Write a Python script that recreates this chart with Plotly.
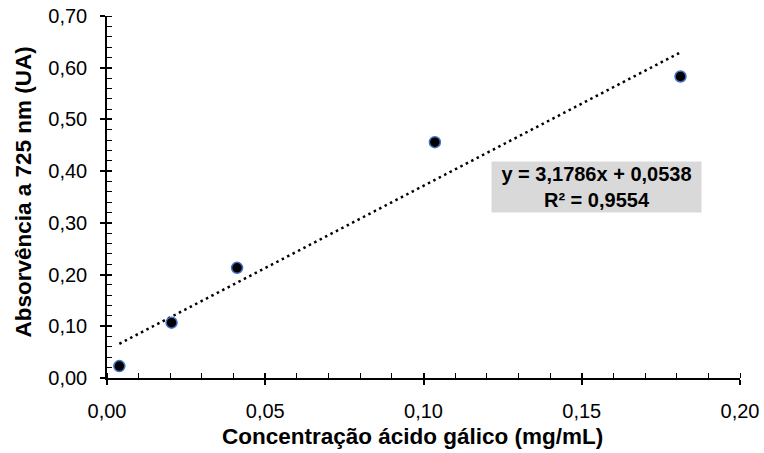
import plotly.graph_objects as go

# Data
concentracao = [0.0039, 0.0204, 0.0411, 0.1036, 0.1812]
absorvancia = [0.023, 0.107, 0.213, 0.456, 0.583]
slope = 3.1786
intercept = 0.0538
r2 = 0.9554
x_title = "Concentração ácido gálico (mg/mL)"
y_title = "Absorvência a 725 nm (UA)"

x_fit = [min(concentracao), max(concentracao)]
y_fit = [slope * v + intercept for v in x_fit]

fig = go.Figure()
fig.add_trace(go.Scatter(
    x=x_fit, y=y_fit, mode="lines",
    line=dict(color="black", width=2.5, dash="2.5px,3.6px"),
    showlegend=False, hoverinfo="skip"))
fig.add_trace(go.Scatter(
    x=concentracao, y=absorvancia, mode="markers",
    marker=dict(color="black", size=11, line=dict(color="#4472C4", width=1.5)),
    showlegend=False))

font_family = "Liberation Sans"
axis_common = dict(showline=True, linecolor="black", linewidth=1.5, showgrid=False,
                   zeroline=False, ticks="outside", ticklen=5, tickwidth=1.5,
                   tickcolor="black", tickformat=".2f",
                   automargin=False, ticklabelstandoff=9,
                   tickfont=dict(family=font_family, size=20, color="black"))

fig.update_layout(
    width=764, height=453,
    margin=dict(l=107, r=24, t=16, b=75),
    plot_bgcolor="white", paper_bgcolor="white",
    separators=", ",
    font=dict(family=font_family, color="black"),
    xaxis=dict(range=[0, 0.20], dtick=0.05,
               minor=dict(dtick=0.01, ticks="inside", ticklen=5, tickwidth=1.2, tickcolor="black"),
               **axis_common),
    yaxis=dict(range=[0, 0.70], dtick=0.10,
               minor=dict(dtick=0.02, ticks="inside", ticklen=5, tickwidth=1.2, tickcolor="black"),
               **axis_common),
    xaxis2=dict(overlaying="x", matches="x", range=[0, 0.20], dtick=0.05, ticks="inside",
                ticklen=5, tickwidth=1.5, tickcolor="black", showticklabels=False,
                showgrid=False, zeroline=False, showline=False, side="bottom", automargin=False),
    yaxis2=dict(overlaying="y", matches="y", range=[0, 0.70], dtick=0.10, ticks="inside",
                ticklen=5, tickwidth=1.5, tickcolor="black", showticklabels=False,
                showgrid=False, zeroline=False, showline=False, side="left", automargin=False),
)
# dummy trace to activate overlay axes
fig.add_trace(go.Scatter(x=[None], y=[None], xaxis="x2", yaxis="y2", showlegend=False))

# axis titles
fig.add_annotation(
    x=0.4826, y=0, xref="paper", yref="paper", yanchor="middle", yshift=-58,
    showarrow=False, text=f"<b>{x_title}</b>",
    font=dict(family=font_family, size=22.5, color="black"))
fig.add_annotation(
    x=0, y=0.5124, xref="paper", yref="paper", xanchor="center", xshift=-83,
    textangle=-90, showarrow=False, text=f"<b>{y_title}</b>",
    font=dict(family=font_family, size=22.5, color="black"))

# trendline equation label
fig.add_annotation(
    x=0.1547, y=0.3703, xref="x", yref="y", showarrow=False,
    text=f"<b>y = {str(slope).replace('.', ',')}x + {str(intercept).replace('.', ',')}<br>R² = {str(r2).replace('.', ',')}</b>",
    font=dict(family=font_family, size=20, color="black"),
    bgcolor="#D9D9D9", borderpad=1, width=207, align="center")

fig.write_html("out.html", config={"displayModeBar": False},
               post_script="document.body.style.margin='0';")
